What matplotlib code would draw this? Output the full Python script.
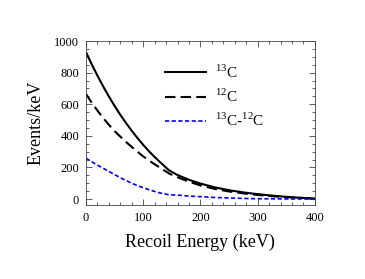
import numpy as np
import matplotlib
matplotlib.use('Agg')
import matplotlib.pyplot as plt
from matplotlib.ticker import MultipleLocator

plt.rcParams['font.family'] = ['Liberation Serif', 'DejaVu Serif']
plt.rcParams['mathtext.fontset'] = 'custom'
plt.rcParams['mathtext.rm'] = 'Liberation Serif'

# energies (keV) and curves
energy = [0, 10, 20, 30, 40, 50, 60, 70, 80, 90, 100, 110, 120, 130, 145,
          160, 180, 200, 225, 250, 275, 300, 325, 350, 375, 400]
c13 = [930, 853, 781, 713, 649, 589, 533, 481, 432, 386, 343, 303, 266, 232, 182,
       152, 122, 98, 74, 56, 42, 31, 22, 14, 8, 4]
c12 = [665, 610, 560, 513, 470, 430, 395, 361, 330, 299, 270, 244, 220, 197, 162,
       138, 110, 86, 64, 48, 36, 26, 18, 12, 7, 4]
diff = [258, 236, 215, 195, 175, 155, 135, 117, 100, 85, 72, 59, 48, 38, 27,
        25, 19, 15, 10, 7, 4, 2, 1.5, 1, 0.5, 0]

fig = plt.figure(figsize=(3.65, 2.79), dpi=100)
ax = fig.add_axes([0.2356, 0.265, 0.627, 0.588])

ax.plot(energy, c13, color='black', lw=1.5, label=r'$^{13}$C')
ax.plot(energy, c12, color='black', lw=1.5, dashes=(5, 2.5), label=r'$^{12}$C')
ax.plot(energy, diff, color='#0000ee', lw=1.2, dashes=(2.5, 1.5), label=r'$^{13}$C-$^{12}$C')

ax.set_xlim(0, 400)
ax.set_ylim(-38, 1000)
ax.xaxis.set_major_locator(MultipleLocator(100))
ax.xaxis.set_minor_locator(MultipleLocator(20))
ax.yaxis.set_major_locator(MultipleLocator(200))
ax.yaxis.set_minor_locator(MultipleLocator(50))
ax.tick_params(which='both', direction='in', top=True, right=True, labelsize=9, width=0.6, color='#444444')
ax.tick_params(which='major', length=4, pad=5)
ax.tick_params(which='minor', length=2)
for s in ax.spines.values():
    s.set_linewidth(0.6)
    s.set_color('#444444')

ax.set_xlabel('Recoil Energy (keV)', fontsize=13, labelpad=7)
ax.set_ylabel('Events/keV', fontsize=13, labelpad=7)

ax.legend(frameon=False, fontsize=11, loc='upper left', bbox_to_anchor=(0.31, 0.91),
          handlelength=2.7, handletextpad=0.6, labelspacing=0.45, borderpad=0)

fig.savefig('out.png', dpi=100)
